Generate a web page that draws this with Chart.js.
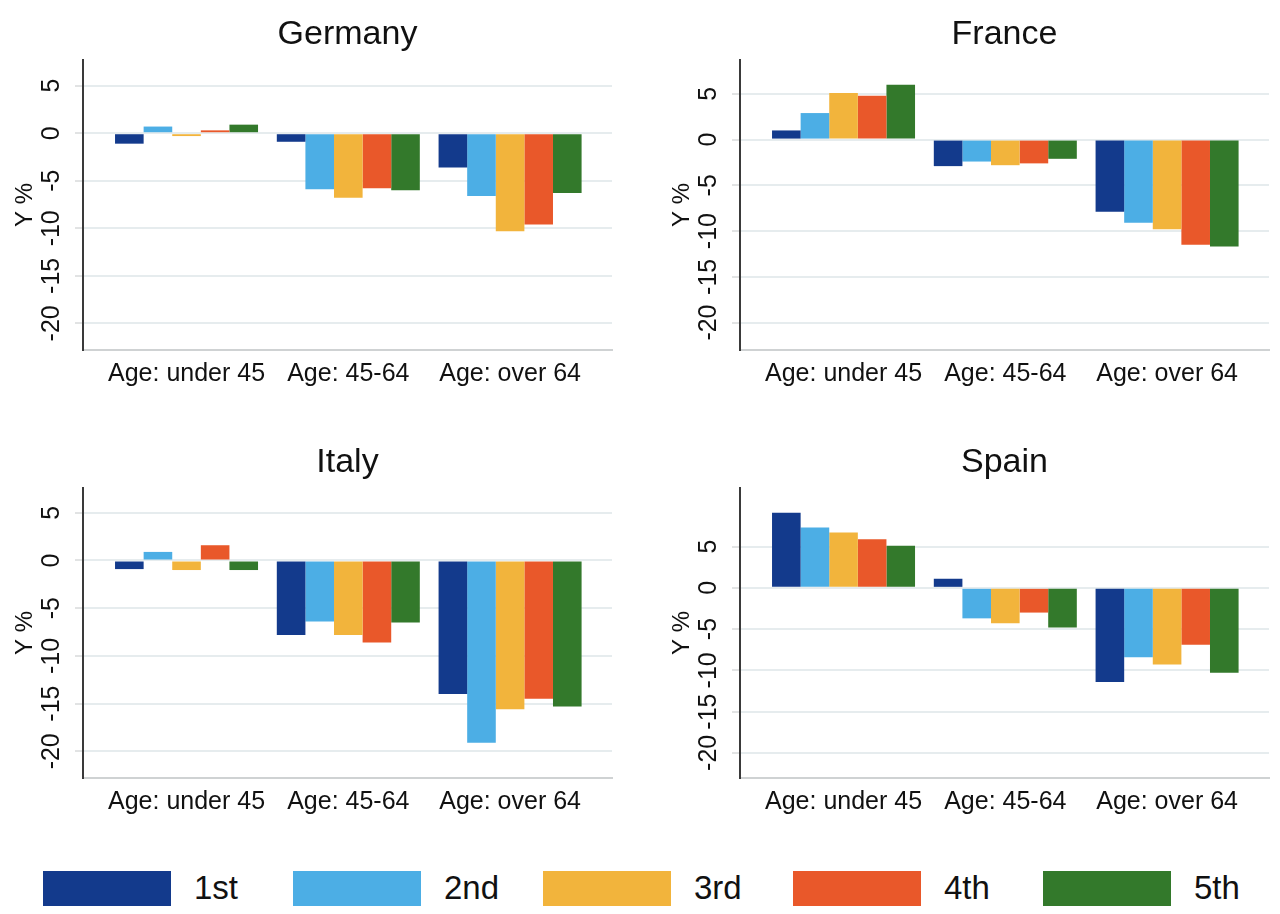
<!DOCTYPE html>
<html>
<head>
<meta charset="utf-8">
<style>
  body { margin: 0; background: #fff; width: 1280px; height: 914px; position: relative; overflow: hidden;
         font-family: "Liberation Sans", Arial, sans-serif; }
  .panel { position: absolute; width: 640px; height: 400px; }
  #legend { position: absolute; left: 0; top: 870px; width: 1280px; height: 36px; }
  .item { position: absolute; top: 0; height: 36px; display: flex; align-items: center; }
  .swatch { width: 128px; height: 35px; }
  .lbl { margin-left: 23px; font-size: 33px; color: #111; }
</style>
</head>
<body>
<div class="panel" style="left:0;top:0"><canvas id="c0" width="640" height="400"></canvas></div>
<div class="panel" style="left:640px;top:0"><canvas id="c1" width="640" height="400"></canvas></div>
<div class="panel" style="left:0;top:428px"><canvas id="c2" width="640" height="400"></canvas></div>
<div class="panel" style="left:640px;top:428px"><canvas id="c3" width="640" height="400"></canvas></div>
<div id="legend"></div>

<script src="https://cdn.jsdelivr.net/npm/chart.js@4/dist/chart.umd.min.js"></script>
<script>
const countries = ["Germany", "France", "Italy", "Spain"];
const ageGroups = ["Age: under 45", "Age: 45-64", "Age: over 64"];
const quintiles = ["1st", "2nd", "3rd", "4th", "5th"];
const colors = ["#133a8c", "#4caee5", "#f2b43c", "#e9582a", "#33792b"];
const yTicks = [-20, -15, -10, -5, 0, 5];

// one row per quintile, one column per age group (Y %)
const germany = [
    [-1.1, -0.9, -3.6],
    [0.7, -5.9, -6.6],
    [-0.3, -6.8, -10.3],
    [0.3, -5.8, -9.6],
    [0.9, -6.0, -6.3]
];
const france = [
    [1.0, -2.9, -7.9],
    [2.9, -2.4, -9.1],
    [5.1, -2.8, -9.8],
    [4.8, -2.6, -11.5],
    [6.0, -2.1, -11.7]
];
const italy = [
    [-0.9, -7.8, -14.0],
    [0.9, -6.4, -19.1],
    [-1.0, -7.8, -15.6],
    [1.6, -8.6, -14.5],
    [-1.0, -6.5, -15.3]
];
const spain = [
    [9.1, 1.1, -11.4],
    [7.3, -3.7, -8.4],
    [6.7, -4.3, -9.3],
    [5.9, -3.0, -6.9],
    [5.1, -4.8, -10.3]
];
const values = [germany, france, italy, spain];
const yMin = [-22.8, -23.0, -22.8, -23.05];
const yMax = [7.7, 8.7, 7.6, 12.1];

// chart area left edge of each panel (page x) and canvas left
const axisX = [83, 740, 83, 740];
const canvasLeft = [0, 640, 0, 640];
const plotWidth = 529;
const yAxisWidth = 76.4;

Chart.defaults.font.family = '"Liberation Sans", Arial, sans-serif';
Chart.defaults.color = "#111";

const rotatedTicks = {
    id: "rotatedTicks",
    afterDraw(chart) {
        const y = chart.scales.y;
        const ctx = chart.ctx;
        ctx.save();
        ctx.font = '25px "Liberation Sans", Arial, sans-serif';
        ctx.fillStyle = "#111";
        ctx.textAlign = "center";
        ctx.textBaseline = "middle";
        y.ticks.forEach(t => {
            ctx.save();
            ctx.translate(y.right - 31, y.getPixelForValue(t.value));
            ctx.rotate(-Math.PI / 2);
            ctx.fillText(String(t.value), 0, 0);
            ctx.restore();
        });
        ctx.restore();
    }
};

countries.forEach((name, k) => {
    const padLeft = axisX[k] - yAxisWidth - canvasLeft[k];
    const padRight = canvasLeft[k] + 640 - (axisX[k] + plotWidth);
    new Chart(document.getElementById("c" + k), {
        type: "bar",
        data: {
            datasets: quintiles.map((q, i) => ({
                label: q,
                backgroundColor: colors[i],
                borderWidth: 0,
                data: ageGroups.map((g, j) => ({ x: j, y: values[k][i][j] }))
            }))
        },
        options: {
            responsive: false,
            animation: false,
            layout: { padding: { left: padLeft, right: padRight, top: 6, bottom: 10 } },
            datasets: { bar: { categoryPercentage: 0.884, barPercentage: 1.0 } },
            plugins: {
                legend: { display: false },
                tooltip: { enabled: false },
                title: {
                    display: true,
                    text: name,
                    fullSize: false,
                    font: { size: 34, weight: "normal" },
                    color: "#111",
                    padding: { top: 8, bottom: 5.2 }
                }
            },
            scales: {
                x: {
                    type: "linear",
                    offset: false,
                    min: -0.64,
                    max: 2.63,
                    afterBuildTicks: s => { s.ticks = ageGroups.map((g, j) => ({ value: j })); },
                    ticks: {
                        callback: v => ageGroups[v],
                        font: { size: 25 },
                        color: "#111",
                        padding: 1,
                        maxRotation: 0,
                        autoSkip: false
                    },
                    grid: { display: false },
                    border: { display: true, color: "#cfd2d3", width: 2 }
                },
                y: {
                    min: yMin[k],
                    max: yMax[k],
                    afterBuildTicks: s => { s.ticks = yTicks.map(v => ({ value: v })); },
                    afterFit: s => { s.width = yAxisWidth; },
                    ticks: { display: false },
                    grid: {
                        color: "#e6ecee",
                        lineWidth: 2,
                        tickColor: "#c4c7c8",
                        tickLength: 8,
                        tickWidth: 1
                    },
                    border: { display: true, color: "#3a3a3a", width: 2 },
                    title: {
                        display: true,
                        text: "Y %",
                        font: { size: 24 },
                        color: "#111",
                        padding: { top: 4, bottom: 4 }
                    }
                }
            }
        },
        plugins: [rotatedTicks]
    });
});

const legend = document.getElementById("legend");
quintiles.forEach((q, i) => {
    const item = document.createElement("div");
    item.className = "item";
    item.style.left = (43 + i * 250) + "px";
    item.innerHTML = '<div class="swatch" style="background:' + colors[i] + '"></div><span class="lbl">' + q + '</span>';
    legend.appendChild(item);
});
</script>
</body>
</html>
